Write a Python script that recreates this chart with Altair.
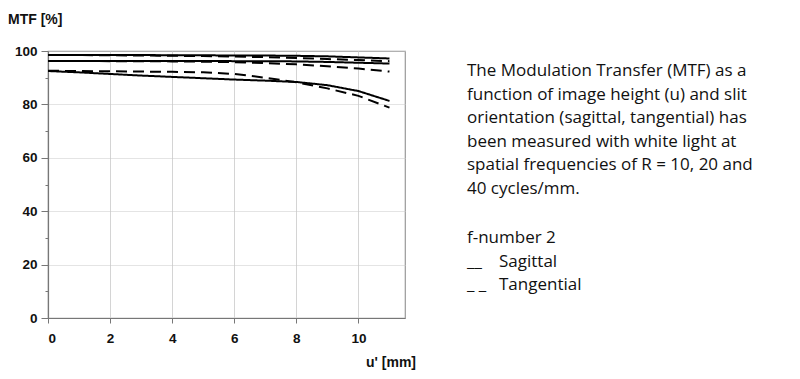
import altair as alt
import pandas as pd

# ---- data ----
u_mm = [0, 1, 2, 3, 4, 5, 6, 7, 8, 9, 10, 11]
sag_10 = [98.5, 98.5, 98.5, 98.5, 98.4, 98.4, 98.3, 98.3, 98.2, 98.0, 97.6, 97.2]
tan_10 = [98.5, 98.5, 98.4, 98.3, 98.2, 98.1, 97.9, 97.7, 97.4, 97.0, 96.6, 96.2]
sag_20 = [96.3, 96.3, 96.3, 96.3, 96.3, 96.3, 96.2, 96.2, 96.1, 95.9, 95.6, 95.3]
tan_20 = [96.3, 96.3, 96.2, 96.2, 96.1, 96.0, 95.8, 95.5, 95.0, 94.3, 93.4, 92.3]
sag_40 = [92.5, 92.0, 91.4, 90.8, 90.3, 89.8, 89.3, 88.9, 88.4, 87.2, 85.0, 81.3]
tan_40 = [92.6, 92.5, 92.4, 92.3, 92.2, 92.0, 91.4, 90.0, 88.3, 86.0, 83.2, 78.8]

x_ticks = [0, 2, 4, 6, 8, 10]
y_ticks = [0, 10, 20, 30, 40, 50, 60, 70, 80, 90, 100]

y_title = "MTF [%]"
x_title = "u' [mm]"
desc_lines = [
    "The Modulation Transfer (MTF) as a",
    "function of image height (u) and slit",
    "orientation (sagittal, tangential) has",
    "been measured with white light at",
    "spatial frequencies of R = 10, 20 and",
    "40 cycles/mm.",
]
fnumber_line = ["f-number 2"]
legend_marks = ["__", "_ _"]
legend_labels = ["Sagittal", "Tangential"]

series = [
    ("S10", "Sagittal", sag_10),
    ("T10", "Tangential", tan_10),
    ("S20", "Sagittal", sag_20),
    ("T20", "Tangential", tan_20),
    ("S40", "Sagittal", sag_40),
    ("T40", "Tangential", tan_40),
]
rows = []
for name, orient, vals in series:
    for u, v in zip(u_mm, vals):
        rows.append({"u": u, "mtf": v, "series": name, "orient": orient})
df = pd.DataFrame(rows)

W, H = 357, 267
FONT = "Liberation Sans"
TXT_FONT = "Open Sans"

lines = alt.Chart(df).mark_line(color="black", strokeWidth=2).encode(
    x=alt.X("u:Q", scale=alt.Scale(domain=[0, 11.5], nice=False, zero=False),
            axis=alt.Axis(values=x_ticks, title=None, grid=True,
                          gridColor="#d4d4d4", gridWidth=1,
                          labelFont=FONT, labelFontSize=13.5, labelFontWeight="bold",
                          labelColor="#111", labelPadding=8,
                          tickColor="#777", tickSize=5,
                          domainColor="#777", domainWidth=1.2)),
    y=alt.Y("mtf:Q", scale=alt.Scale(domain=[0, 100], nice=False),
            axis=alt.Axis(values=y_ticks, title=None,
                          labelExpr="datum.value % 20 === 0 ? datum.label : ''",
                          gridOpacity=alt.condition("datum.value % 20 === 0", alt.value(1), alt.value(0)),
                          tickSize=alt.condition("datum.value % 20 === 0", alt.value(7), alt.value(3)),
                          gridColor="#c8c8c8", gridDash=[1, 1], gridWidth=1,
                          labelFont=FONT, labelFontSize=13.5, labelFontWeight="bold",
                          labelColor="#111", labelPadding=4,
                          tickColor="#777",
                          domainColor="#777", domainWidth=1.2)),
    strokeDash=alt.StrokeDash("orient:N",
                              scale=alt.Scale(domain=["Sagittal", "Tangential"],
                                              range=[[1, 0], [11, 6]]),
                              legend=None),
    detail="series:N",
)

ytitle = alt.Chart(pd.DataFrame({"t": [y_title]})).mark_text(
    font=FONT, fontSize=14, fontWeight="bold", align="left", baseline="alphabetic", color="#111"
).encode(text="t:N", x=alt.value(-40), y=alt.value(-27))

xtitle = alt.Chart(pd.DataFrame({"t": [x_title]})).mark_text(
    font=FONT, fontSize=14, fontWeight="bold", align="left", baseline="alphabetic", color="#111"
).encode(text="t:N", x=alt.value(318), y=alt.value(316))


def text_block(lines_, x_px, y0, step, dy=0):
    d = pd.DataFrame({"t": lines_, "i": list(range(len(lines_)))})
    return alt.Chart(d).mark_text(
        font=TXT_FONT, fontSize=17, align="left", baseline="alphabetic", color="#111", dy=dy
    ).encode(text="t:N", x=alt.value(x_px),
             y=alt.Y("i:Q", scale=alt.Scale(domain=[0, 1], range=[y0, y0 + step]), axis=None))


desc = text_block(desc_lines, 419, 25, 23.5)
fnum = text_block(fnumber_line, 419, 192, 23.5)
lmark = text_block(legend_marks, 419, 215.5, 23.5)
llab = text_block(legend_labels, 451, 215.5, 23.5)

base = alt.layer(lines, ytitle, xtitle).properties(width=W, height=H)
chart = alt.layer(base, desc, fnum, lmark, llab).resolve_scale(y="independent").properties(
    width=W, height=H,
    autosize=alt.AutoSizeParams(type="none"),
    padding={"left": 40, "top": 43, "right": 385, "bottom": 55},
).configure_view(stroke="#999999", strokeWidth=1.2)

chart.save("out.html", embed_options={"renderer": "svg", "actions": False})
